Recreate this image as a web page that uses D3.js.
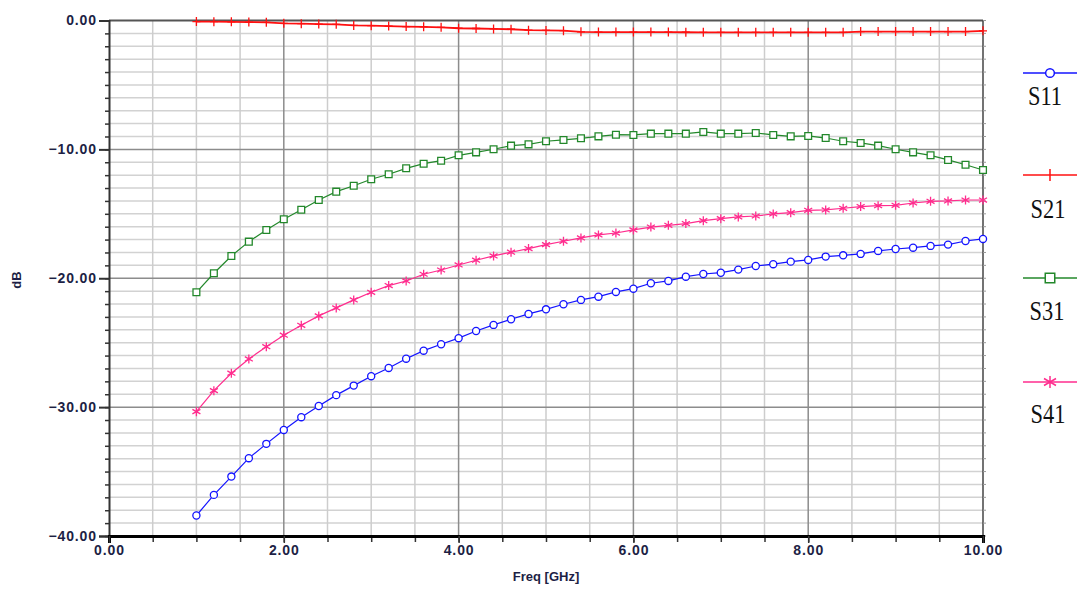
<!DOCTYPE html>
<html>
<head>
<meta charset="utf-8">
<script src="https://cdn.jsdelivr.net/npm/d3@7"></script>
<style>
  html, body { margin: 0; padding: 0; background: #ffffff; }
  svg { display: block; }
</style>
</head>
<body>
<svg id="chart" width="1078" height="589"></svg>
<script>
// ---------- DATA ----------
const freq = [1.0, 1.2, 1.4, 1.6, 1.8, 2.0, 2.2, 2.4, 2.6, 2.8, 3.0, 3.2, 3.4, 3.6, 3.8, 4.0,
  4.2, 4.4, 4.6, 4.8, 5.0, 5.2, 5.4, 5.6, 5.8, 6.0, 6.2, 6.4, 6.6, 6.8, 7.0, 7.2, 7.4, 7.6,
  7.8, 8.0, 8.2, 8.4, 8.6, 8.8, 9.0, 9.2, 9.4, 9.6, 9.8, 10.0];

const s11 = [-38.41, -36.81, -35.39, -33.96, -32.85, -31.77, -30.78, -29.91, -29.07, -28.33,
  -27.60, -26.96, -26.24, -25.62, -25.12, -24.65, -24.09, -23.62, -23.18, -22.77, -22.41,
  -22.02, -21.68, -21.43, -21.06, -20.81, -20.39, -20.21, -19.88, -19.67, -19.57, -19.33,
  -19.05, -18.91, -18.71, -18.58, -18.32, -18.22, -18.11, -17.88, -17.73, -17.63, -17.49,
  -17.39, -17.11, -16.95];

const s21 = [-0.08, -0.09, -0.10, -0.12, -0.14, -0.22, -0.25, -0.28, -0.30, -0.38, -0.40,
  -0.43, -0.47, -0.49, -0.53, -0.60, -0.62, -0.65, -0.68, -0.75, -0.77, -0.79, -0.88, -0.90,
  -0.90, -0.90, -0.90, -0.90, -0.91, -0.92, -0.92, -0.92, -0.92, -0.92, -0.92, -0.92, -0.92,
  -0.92, -0.86, -0.86, -0.86, -0.86, -0.86, -0.86, -0.86, -0.80];

const s31 = [-21.09, -19.61, -18.27, -17.16, -16.25, -15.42, -14.68, -13.93, -13.28, -12.82,
  -12.32, -11.93, -11.47, -11.11, -10.88, -10.46, -10.23, -9.99, -9.71, -9.61, -9.37, -9.27,
  -9.14, -8.99, -8.86, -8.88, -8.78, -8.78, -8.78, -8.65, -8.78, -8.78, -8.73, -8.88, -8.99,
  -8.96, -9.12, -9.37, -9.50, -9.71, -9.99, -10.23, -10.46, -10.82, -11.19, -11.60];

const s41 = [-30.35, -28.72, -27.37, -26.26, -25.31, -24.42, -23.65, -22.92, -22.30, -21.68,
  -21.09, -20.57, -20.21, -19.69, -19.36, -18.97, -18.60, -18.27, -17.98, -17.70, -17.39,
  -17.13, -16.87, -16.64, -16.49, -16.25, -16.03, -15.89, -15.76, -15.53, -15.38, -15.24,
  -15.17, -15.01, -14.91, -14.73, -14.70, -14.57, -14.44, -14.37, -14.34, -14.16, -14.03,
  -14.00, -13.93, -13.93];

const seriesNames = ["S11", "S21", "S31", "S41"];
const xTickValues = [0, 2, 4, 6, 8, 10];
const yTickValues = [0, -10, -20, -30, -40];
const xLabel = "Freq [GHz]";
const yLabel = "dB";

// ---------- STYLE ----------
const colors = { S11: "#1414ff", S21: "#ff1010", S31: "#23882b", S41: "#ff2d8e" };
const valuesBy = { S11: s11, S21: s21, S31: s31, S41: s41 };

const svg = d3.select("#chart");
const pLeft = 109, pRight = 983, pTop = 20.5, pBottom = 536;

const x = d3.scaleLinear().domain([0, 10]).range([pLeft, pRight]);
const y = d3.scaleLinear().domain([-40, 0]).range([pBottom, pTop]);

// ---------- GRID ----------
const grid = svg.append("g");
const xMinor = d3.range(0, 10.001, 0.5);
const yMinor = d3.range(-40, 0.001, 1);

grid.selectAll("line.yminor").data(yMinor.filter(v => v % 10 !== 0)).join("line")
  .attr("x1", pLeft).attr("x2", pRight)
  .attr("y1", d => y(d)).attr("y2", d => y(d))
  .attr("stroke", "#d2d2d2").attr("stroke-width", 1.5);
grid.selectAll("line.xminor").data(xMinor.filter(v => Math.abs(v % 2) > 1e-9 && v > 0 && v < 10)).join("line")
  .attr("y1", pTop).attr("y2", pBottom)
  .attr("x1", d => x(d)).attr("x2", d => x(d))
  .attr("stroke", "#cdcdcd").attr("stroke-width", 1.5);
grid.selectAll("line.ymajor").data([-10, -20, -30]).join("line")
  .attr("x1", pLeft).attr("x2", pRight)
  .attr("y1", d => y(d)).attr("y2", d => y(d))
  .attr("stroke", "#8c8c8c").attr("stroke-width", 1.5);
grid.selectAll("line.xmajor").data([2, 4, 6, 8]).join("line")
  .attr("y1", pTop).attr("y2", pBottom)
  .attr("x1", d => x(d)).attr("x2", d => x(d))
  .attr("stroke", "#8c8c8c").attr("stroke-width", 1.5);

// Frame: top and right
svg.append("line").attr("x1", pLeft).attr("x2", pRight).attr("y1", pTop).attr("y2", pTop)
  .attr("stroke", "#555").attr("stroke-width", 2);
svg.append("line").attr("x1", pRight).attr("x2", pRight).attr("y1", pTop).attr("y2", pBottom)
  .attr("stroke", "#444").attr("stroke-width", 1.5);
svg.append("g").selectAll("line").data(yMinor).join("line")
  .attr("x1", pRight).attr("x2", pRight + 3)
  .attr("y1", d => y(d)).attr("y2", d => y(d))
  .attr("stroke", "#999").attr("stroke-width", 1);

// ---------- AXES ----------
const labelColor = "#1d1f45";
const yAxisMinor = svg.append("g").attr("transform", `translate(${pLeft},0)`)
  .call(d3.axisLeft(y).tickValues(yMinor).tickSize(4).tickFormat(""));
yAxisMinor.select(".domain").remove();
yAxisMinor.selectAll("line").attr("stroke", "#333").attr("stroke-width", 1.5);

const yAxis = svg.append("g").attr("transform", `translate(${pLeft},0)`)
  .call(d3.axisLeft(y).tickValues(yTickValues).tickSize(10).tickPadding(2).tickFormat(d3.format(".2f")));
yAxis.select(".domain").attr("stroke", "#333").attr("stroke-width", 2);
yAxis.selectAll("line").attr("stroke", "#333").attr("stroke-width", 2);
yAxis.selectAll("text").attr("fill", labelColor)
  .style("font-family", "Arial, 'Liberation Sans', sans-serif")
  .style("font-size", "14px").style("font-weight", "bold").style("letter-spacing", "0.9px");

const xAxisMinor = svg.append("g").attr("transform", `translate(0,${pBottom})`)
  .call(d3.axisBottom(x).tickValues(xMinor).tickSize(6).tickFormat(""));
xAxisMinor.select(".domain").remove();
xAxisMinor.selectAll("line").attr("stroke", "#333").attr("stroke-width", 1.5);

const xAxis = svg.append("g").attr("transform", `translate(0,${pBottom})`)
  .call(d3.axisBottom(x).tickValues(xTickValues).tickSize(7).tickPadding(2).tickFormat(d3.format(".2f")));
xAxis.select(".domain").attr("stroke", "#000").attr("stroke-width", 3);
xAxis.selectAll("line").attr("stroke", "#333").attr("stroke-width", 1.5);
xAxis.selectAll("text").attr("fill", labelColor)
  .style("font-family", "Arial, 'Liberation Sans', sans-serif")
  .style("font-size", "14px").style("font-weight", "bold").style("letter-spacing", "0.9px");

svg.append("text").text(xLabel)
  .attr("x", 546).attr("y", 581).attr("text-anchor", "middle")
  .attr("fill", labelColor)
  .style("font-family", "Arial, 'Liberation Sans', sans-serif")
  .style("font-size", "13px").style("font-weight", "bold");
svg.append("text").text(yLabel)
  .attr("transform", "translate(21,280) rotate(-90)").attr("text-anchor", "middle")
  .attr("fill", labelColor)
  .style("font-family", "Arial, 'Liberation Sans', sans-serif")
  .style("font-size", "13px").style("font-weight", "bold");

// ---------- MARKERS ----------
function markerPath(name) {
  if (name === "S11") return d3.symbol(d3.symbolCircle, 40)();
  if (name === "S31") return d3.symbol(d3.symbolSquare, 46)();
  if (name === "S41") return "M0,-4.5V4.5M-4,-2.3L4,2.3M-4,2.3L4,-2.3";
  return "M0,-4.5V4.5M-4,0H4";
}

const line = d3.line().x(d => x(d[0])).y(d => y(d[1]));
const plot = svg.append("g");

seriesNames.forEach(name => {
  const vals = valuesBy[name];
  const pts = freq.map((f, i) => [f, vals[i]]);
  plot.append("path").datum(pts)
    .attr("d", line).attr("fill", "none")
    .attr("stroke", colors[name]).attr("stroke-width", name === "S21" ? 1.8 : 1.2);
  plot.selectAll(null).data(pts).join("path")
    .attr("transform", d => `translate(${x(d[0])},${y(d[1])})`)
    .attr("d", markerPath(name))
    .attr("fill", (name === "S11" || name === "S31") ? "#fff" : "none")
    .attr("stroke", colors[name]).attr("stroke-width", 1.3);
});

// ---------- LEGEND ----------
const legendY = [73, 175, 278, 382];
const legendTextY = [105, 218, 320, 423];
const legendTextX = [1045, 1048, 1047, 1048];
const legend = svg.append("g");
seriesNames.forEach((name, i) => {
  const g = legend.append("g");
  g.append("line").attr("x1", 1023).attr("x2", 1077).attr("y1", legendY[i]).attr("y2", legendY[i])
    .attr("stroke", colors[name]).attr("stroke-width", 1.6);
  g.append("path").attr("transform", `translate(1050,${legendY[i]})`)
    .attr("d", name === "S11" ? d3.symbol(d3.symbolCircle, 60)() :
               name === "S31" ? d3.symbol(d3.symbolSquare, 90)() :
               name === "S41" ? "M0,-6V6M-6,-3.5L6,3.5M-6,3.5L6,-3.5" : "M0,-6V6")
    .attr("fill", (name === "S11" || name === "S31") ? "#fff" : "none")
    .attr("stroke", colors[name]).attr("stroke-width", 1.5);
  g.append("text").text(name)
    .attr("transform", `translate(${legendTextX[i]},${legendTextY[i]}) scale(0.8,1)`)
    .attr("text-anchor", "middle")
    .attr("fill", "#111")
    .style("font-family", "'Liberation Serif', 'Times New Roman', serif")
    .style("font-size", "28px");
});
</script>
</body>
</html>
